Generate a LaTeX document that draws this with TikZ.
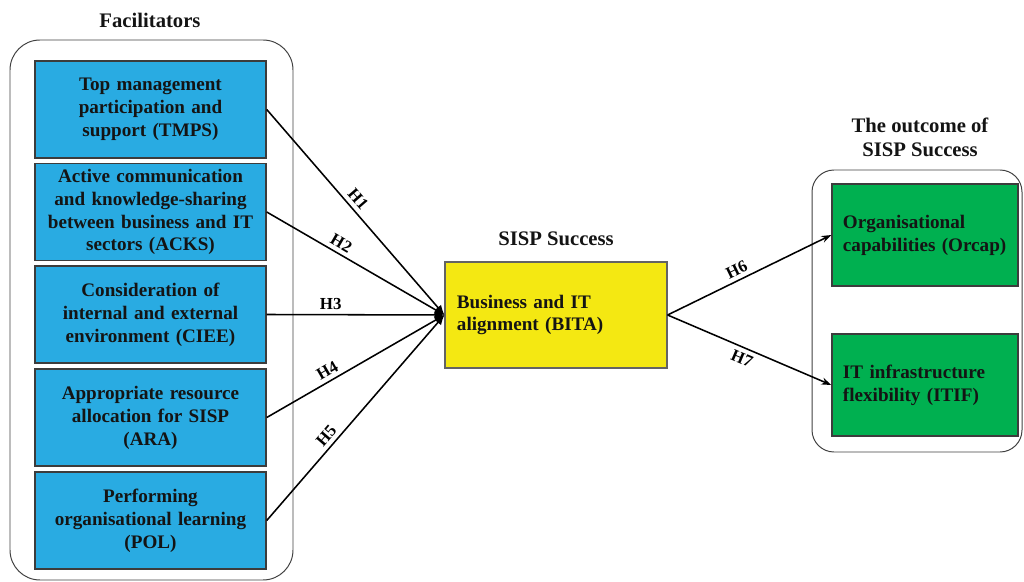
\documentclass[tikz,border=0pt]{standalone}
\usepackage{fontspec}
\setmainfont{Liberation Serif}
\usetikzlibrary{arrows.meta}
\definecolor{fblue}{RGB}{41,171,226}
\definecolor{fyellow}{RGB}{244,232,18}
\definecolor{fgreen}{RGB}{0,176,80}
\definecolor{ftext}{RGB}{20,20,20}
\definecolor{fborder}{RGB}{60,60,60}
\tikzset{
  groupbox/.style={draw=black!75, line width=0.7pt, rounded corners=#1},
  facbox/.style={draw=fborder, line width=1pt, fill=fblue, minimum width=5.775cm, minimum height=2.425cm,
    text width=5.5cm, align=center, inner sep=0pt, font=\fontsize{13.6}{16.3}\selectfont\bfseries, text=ftext},
  midbox/.style={draw=fborder!80, line width=0.8pt, fill=fyellow, minimum width=5.55cm, minimum height=2.65cm,
    text width=4.95cm, inner xsep=0.3cm, align=left, font=\fontsize{13.6}{16.3}\selectfont\bfseries, text=ftext},
  outbox/.style={draw=fborder, line width=1pt, fill=fgreen, minimum width=4.65cm, minimum height=2.55cm,
    text width=4.1cm, inner xsep=0.275cm, align=left, font=\fontsize{13.6}{16.3}\selectfont\bfseries, text=ftext},
  titletext/.style={font=\fontsize{14.7}{17}\selectfont\bfseries, text=ftext, align=center},
  hlabel/.style={font=\fontsize{12}{13}\selectfont\bfseries, text=black, inner xsep=1pt, inner ysep=3pt},
  inarrow/.style={line width=1.1pt, -{Latex[length=7pt,width=6pt]}},
  outarrow/.style={line width=1.1pt, -{Stealth[length=7pt,width=5pt]}},
}
\begin{document}
\begin{tikzpicture}[x=0.025cm, y=-0.025cm]
\useasboundingbox (0,0) rectangle (1024,582);
% group boxes
\draw[groupbox=0.75cm] (10,40) rectangle (293,580);
\draw[groupbox=0.55cm] (812,170) rectangle (1022,452);
% titles
\node[titletext] (tfac) at (150,20) {Facilitators};
\node[titletext] (tsisp) at (556,239) {SISP Success};
\node[titletext] (tout) at (920,137) {The outcome of\\SISP Success};
% facilitator boxes
\node[facbox] (tmps) at (150.5,109.5) {Top management\\participation and\\support (TMPS)};
\node[facbox] (acks) at (150.5,212) {Active communication\\and knowledge-sharing\\between business and IT\\sectors (ACKS)};
\node[facbox] (ciee) at (150.5,314.5) {Consideration of\\internal and external\\environment (CIEE)};
\node[facbox] (ara) at (150.5,417.5) {Appropriate resource\\allocation for SISP\\(ARA)};
\node[facbox] (pol) at (150.5,520.5) {Performing\\organisational learning\\(POL)};
% middle
\node[midbox] (bita) at (556,315) {Business and IT\\alignment (BITA)};
% outcomes
\node[outbox] (orcap) at (925,235) {Organisational\\capabilities (Orcap)};
\node[outbox] (itif) at (925,385) {IT infrastructure\\flexibility (ITIF)};
% connectors
\draw[inarrow] (tmps.east) -- node[hlabel, pos=0.47, sloped, above] {H1} (bita.west);
\draw[inarrow] (acks.east) -- node[hlabel, pos=0.39, sloped, above] {H2} (bita.west);
\draw[inarrow] (ciee.east) -- node[hlabel, pos=0.36, sloped, above] {H3} (bita.west);
\draw[inarrow] (ara.east) -- node[hlabel, pos=0.37, sloped, above] {H4} (bita.west);
\draw[inarrow] (pol.east) -- node[hlabel, pos=0.38, sloped, above] {H5} (bita.west);
\draw[outarrow] (bita.east) -- node[hlabel, pos=0.45, sloped, above] {H6} (orcap.west);
\draw[outarrow] (bita.east) -- node[hlabel, pos=0.48, sloped, below] {H7} (itif.west);
\end{tikzpicture}
\end{document}
